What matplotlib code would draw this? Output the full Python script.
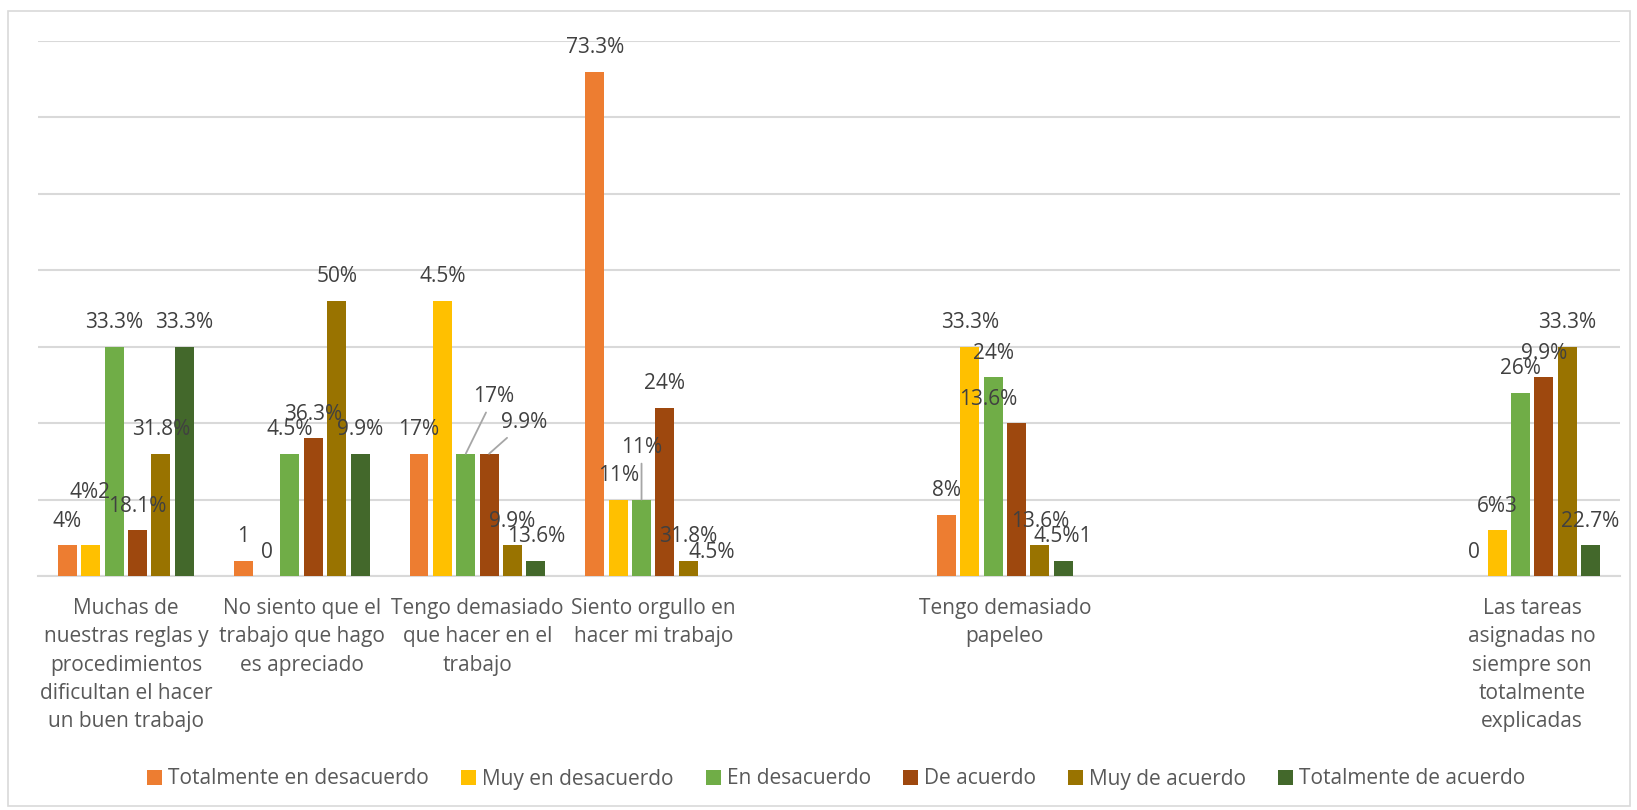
import numpy as np
import matplotlib
matplotlib.use('Agg')
import matplotlib.pyplot as plt
from matplotlib.patches import Rectangle

plt.rcParams['font.family'] = ['Open Sans', 'DejaVu Sans']

# categories (blank ones are empty slots on the axis)
categories = ['Muchas de\nnuestras reglas y\nprocedimientos\ndificultan el hacer\nun buen trabajo',
              'No siento que el\ntrabajo que hago\nes apreciado',
              'Tengo demasiado\nque hacer en el\ntrabajo',
              'Siento orgullo en\nhacer mi trabajo',
              '',
              'Tengo demasiado\npapeleo',
              '',
              '',
              'Las tareas\nasignadas no\nsiempre son\ntotalmente\nexplicadas']

series = ['Totalmente en desacuerdo', 'Muy en desacuerdo', 'En desacuerdo',
          'De acuerdo', 'Muy de acuerdo', 'Totalmente de acuerdo']
colors = ['#ED7D31', '#FFC000', '#70AD47', '#9E480E', '#997300', '#43682B']

nan = np.nan
tot_desacuerdo = [2, 1, 8, 33, nan, 4, nan, nan, 0]
muy_desacuerdo = [2, 0, 18, 5, nan, 15, nan, nan, 3]
en_desacuerdo = [15, 8, 8, 5, nan, 13, nan, nan, 12]
de_acuerdo = [3, 9, 8, 11, nan, 10, nan, nan, 13]
muy_acuerdo = [8, 18, 2, 1, nan, 2, nan, nan, 15]
tot_acuerdo = [15, 8, 1, 0, nan, 1, nan, nan, 2]
values = [tot_desacuerdo, muy_desacuerdo, en_desacuerdo, de_acuerdo, muy_acuerdo, tot_acuerdo]

lab_tot_desacuerdo = ['4%', '1', '17%', '73.3%', '', '8%', '', '', '0']
lab_muy_desacuerdo = ['4%2', '0', '4.5%', '11%', '', '33.3%', '', '', '6%3']
lab_en_desacuerdo = ['33.3%', '4.5%', '17%', '11%', '', '24%', '', '', '26%']
lab_de_acuerdo = ['18.1%', '36.3%', '9.9%', '24%', '', '13.6%', '', '', '9.9%']
lab_muy_acuerdo = ['31.8%', '50%', '9.9%', '31.8%', '', '13.6%', '', '', '33.3%']
lab_tot_acuerdo = ['33.3%', '9.9%', '13.6%', '4.5%', '', '4.5%1', '', '', '22.7%']
labels = [lab_tot_desacuerdo, lab_muy_desacuerdo, lab_en_desacuerdo,
          lab_de_acuerdo, lab_muy_acuerdo, lab_tot_acuerdo]

# labels moved away from their bars: (series, category) -> (dx px, dy px, leader line)
moved = {(1, 0): (-1, 29, False),
         (2, 2): (28, 33, True),
         (3, 2): (35, 7, True),
         (2, 3): (0, 28, True),
         (3, 5): (-28, 0, False)}

W, H = 1637, 810
fig = plt.figure(figsize=(W / 100, H / 100), dpi=100)
ax = fig.add_axes([38 / W, 1 - 576 / H, (1620 - 38) / W, (576 - 41) / H])

x = np.arange(len(categories))
pitch = 0.133
bw = 0.108
px2pt = 0.72

for j, (vals, labs) in enumerate(zip(values, labels)):
    xs = x + (j - 2.5) * pitch
    v = np.array(vals, dtype=float)
    ax.bar(xs, v, width=bw, color=colors[j], label=series[j], zorder=3)
    for i in range(len(categories)):
        if np.isnan(v[i]):
            continue
        dx, dy, lead = moved.get((j, i), (0, 0, False))
        kw = {}
        if lead:
            kw['arrowprops'] = dict(arrowstyle='-', color='#A6A6A6', lw=1.3,
                                    shrinkA=2, shrinkB=0)
        ax.annotate(labs[i], xy=(xs[i], v[i]),
                    xytext=(dx * px2pt, (24 + dy) * px2pt), textcoords='offset points',
                    ha='center', va='center', fontsize=15, color='#404040',
                    zorder=4, **kw)

ax.set_xlim(-0.5, len(categories) - 0.5)
ax.set_ylim(0, 35)
ax.set_yticks(np.arange(0, 36, 5))
ax.set_yticklabels([])
ax.tick_params(axis='y', length=0)
ax.grid(axis='y', color='#D9D9D9', lw=1.5, zorder=0)
ax.set_xticks(x)
ax.set_xticklabels(categories, fontsize=15, color='#595959', linespacing=1.45)
ax.tick_params(axis='x', length=0, pad=16)
for s in ['top', 'right', 'left']:
    ax.spines[s].set_visible(False)
ax.spines['bottom'].set_color('#D9D9D9')
ax.spines['bottom'].set_linewidth(1.5)

fig.legend(loc='center', bbox_to_anchor=(0.511, 1 - 779 / H), ncol=6, frameon=False,
           fontsize=15, labelcolor='#595959', handlelength=0.7, handleheight=0.7,
           handletextpad=0.3, columnspacing=1.55)

fig.patches.append(Rectangle((8 / W, 1 - 806 / H), (1630 - 8) / W, (806 - 11) / H,
                             transform=fig.transFigure, fill=False,
                             edgecolor='#D9D9D9', lw=1.2))

fig.savefig('out.png', dpi=100)
